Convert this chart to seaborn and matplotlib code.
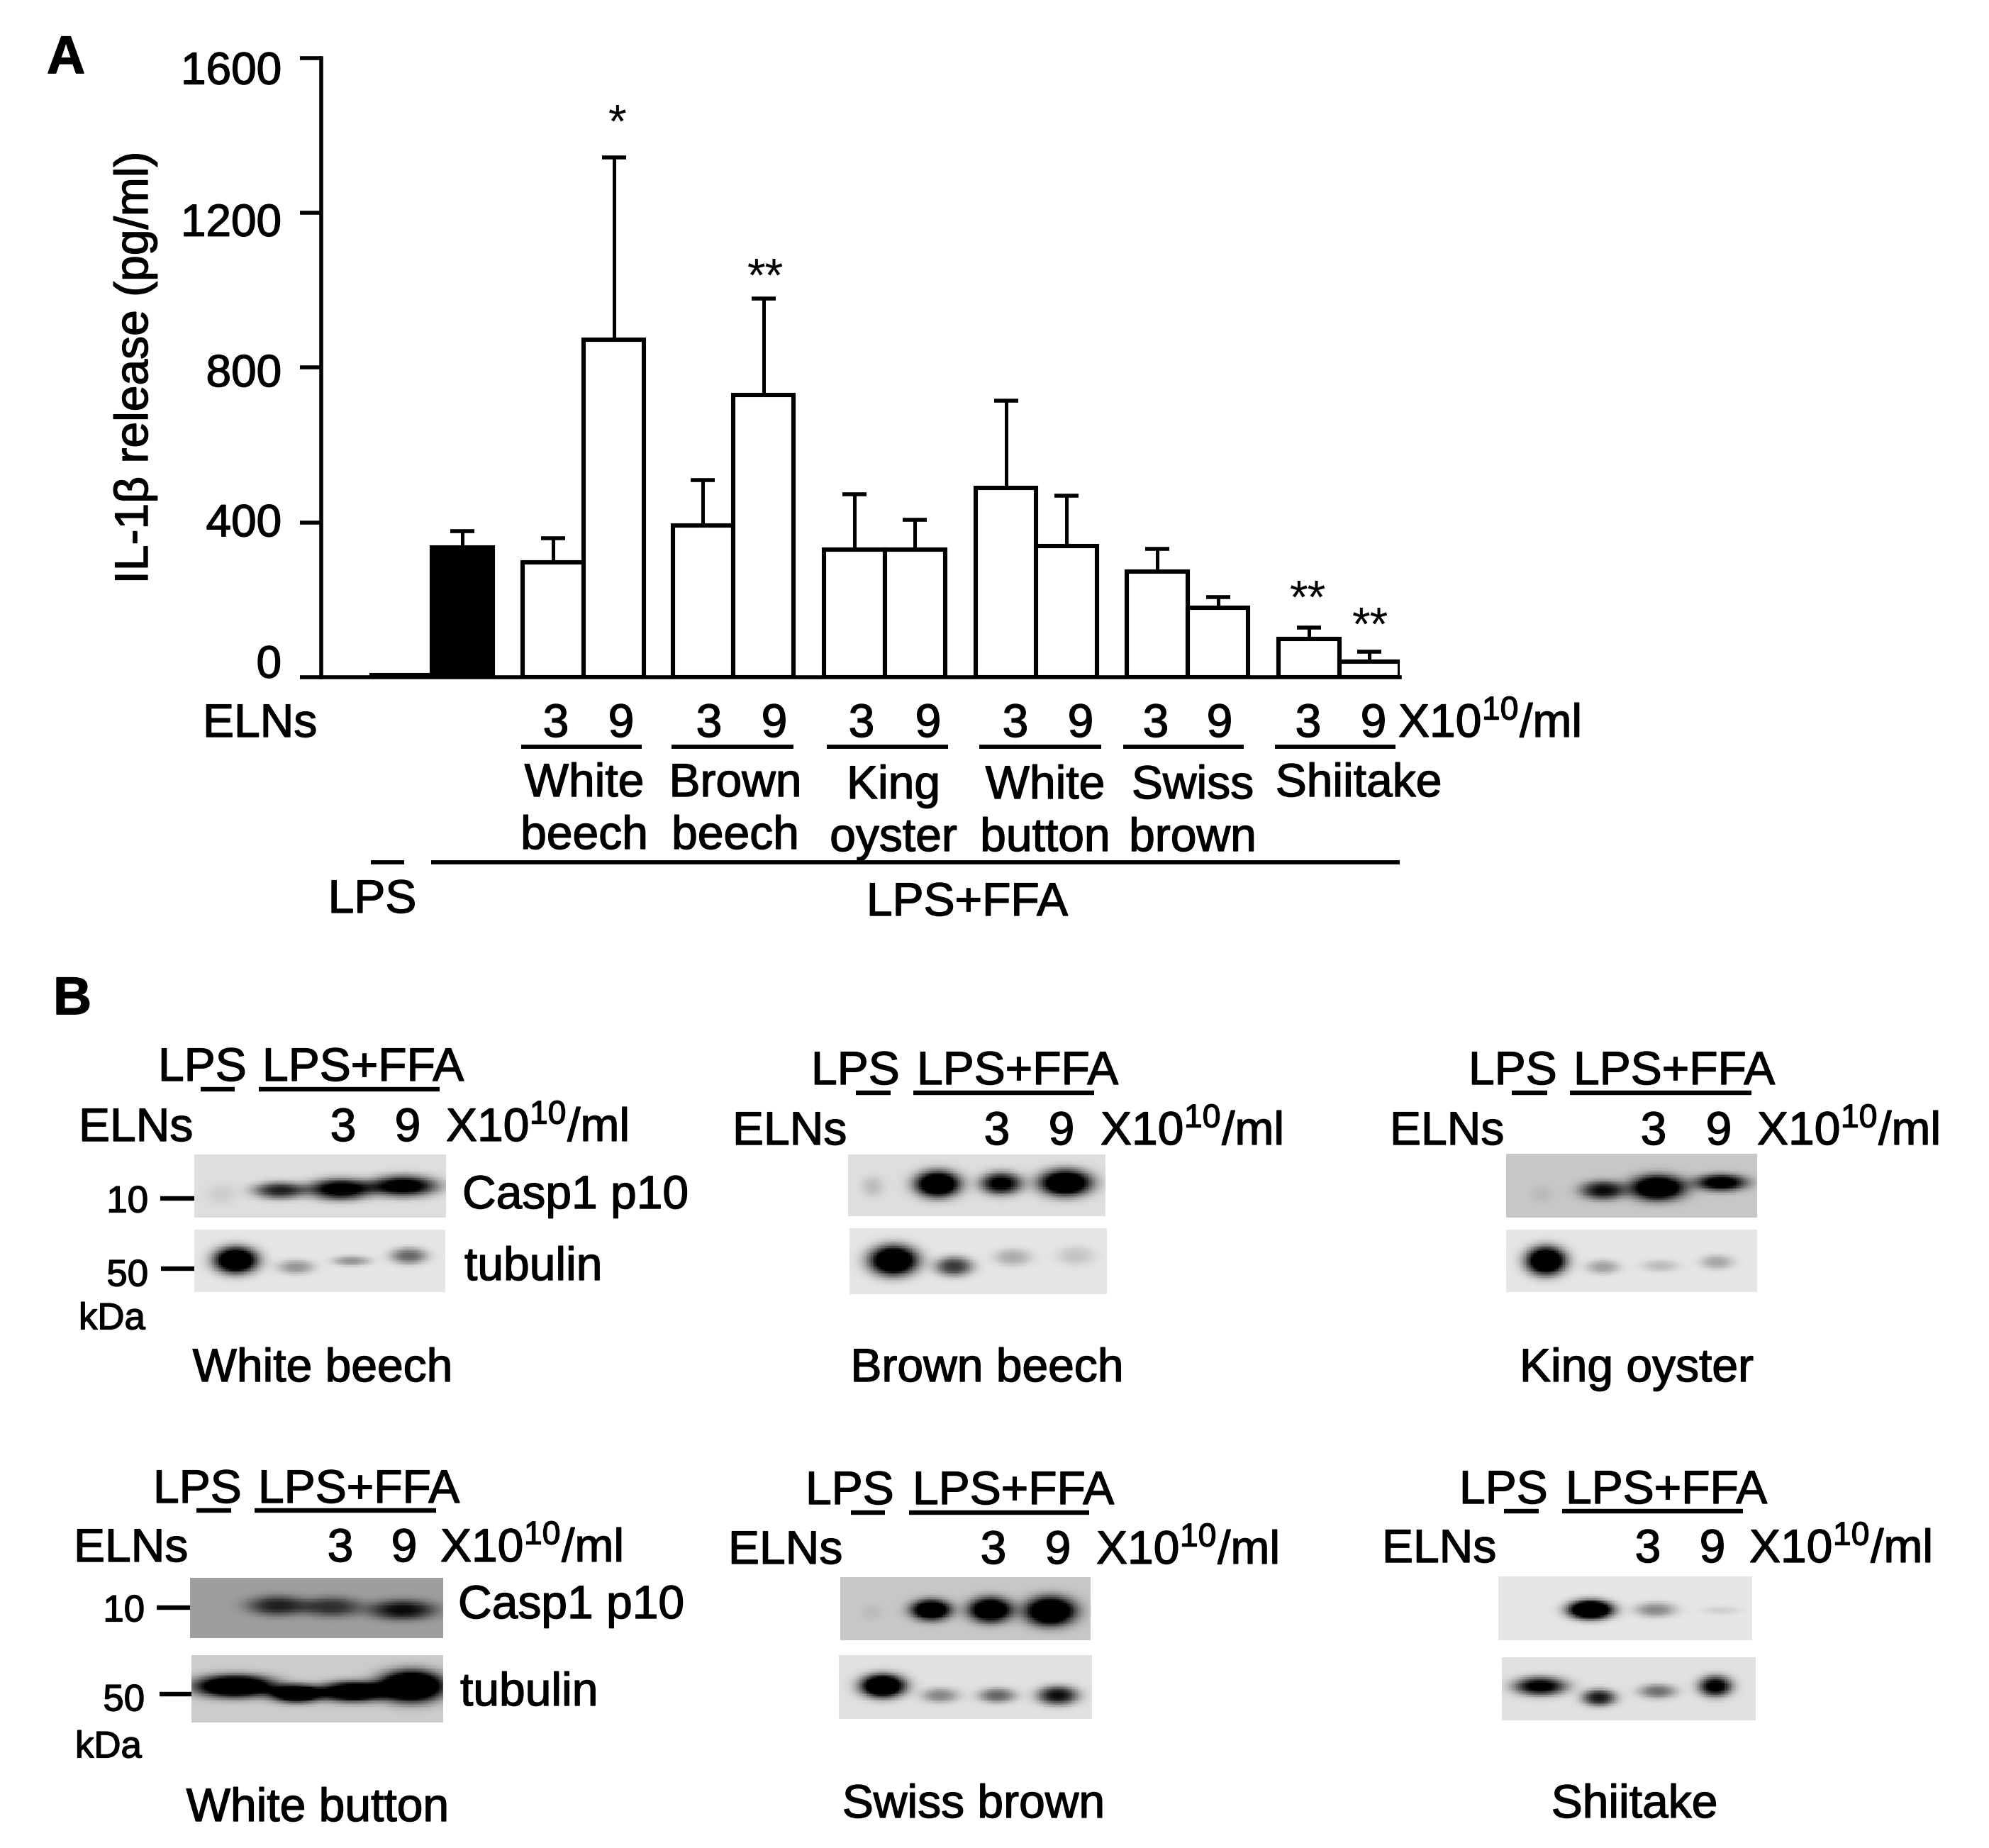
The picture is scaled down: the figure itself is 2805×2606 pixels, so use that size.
import numpy as np
import pandas as pd
import matplotlib
matplotlib.use("Agg")
import matplotlib.pyplot as plt
import matplotlib.patheffects as pe
from matplotlib.transforms import Affine2D
import seaborn as sns

# ---------- data: panel A ----------
control_labels = ["LPS", "LPS+FFA"]
control_means = [6, 336]
control_sems = [0, 42]
mushrooms = ["White\nbeech", "Brown\nbeech", "King\noyster", "White\nbutton", "Swiss\nbrown", "Shiitake"]
doses = ["3", "9"]
means_dose3 = [297, 393, 330, 489, 273, 99]
means_dose9 = [872, 729, 330, 339, 180, 40]
tops_dose3 = [359, 509, 472, 714, 331, 128]
tops_dose9 = [1343, 979, 407, 469, 208, 66]
y_ticks = [0, 400, 800, 1200, 1600]

# ---------- data: panel B blots (lane centre, row, width, height, strength) ----------
blot_names = ["White beech", "Brown beech", "King oyster", "White button", "Swiss brown", "Shiitake"]
casp_bg = [0.87, 0.87, 0.78, 0.62, 0.78, 0.90]
tub_bg = [0.90, 0.90, 0.90, 0.80, 0.88, 0.88]
casp_bands = [
    [(.106, .63, .04, .10, .08), (.34, .57, .07, .08, .85), (.58, .55, .085, .10, 1.2), (.83, .50, .09, .10, 1.2)],
    [(.095, .52, .03, .10, .15), (.348, .48, .06, .13, 1.5), (.595, .47, .055, .11, 1.1), (.845, .46, .07, .13, 1.5)],
    [(.143, .63, .03, .08, .07), (.386, .57, .06, .09, .95), (.604, .53, .075, .12, 1.5), (.857, .45, .07, .08, 1.2)],
    [(.346, .46, .08, .10, .8), (.56, .48, .08, .10, .7), (.84, .53, .09, .10, .95)],
    [(.127, .556, .03, .08, .06), (.363, .52, .055, .10, 1.5), (.60, .52, .06, .12, 1.5), (.84, .54, .07, .14, 1.6)],
    [(.363, .52, .06, .09, 1.7), (.62, .52, .055, .07, .4), (.878, .53, .05, .04, .1)],
]
tub_bands = [
    [(.166, .49, .06, .13, 1.5), (.405, .60, .05, .07, .35), (.626, .50, .05, .05, .35), (.855, .42, .05, .08, .55)],
    [(.171, .49, .065, .14, 1.5), (.406, .58, .05, .09, .75), (.635, .44, .05, .08, .25), (.879, .42, .05, .09, .15)],
    [(.159, .50, .055, .14, 1.5), (.386, .60, .045, .07, .3), (.614, .58, .05, .06, .18), (.84, .52, .045, .07, .28)],
    [(.172, .46, .11, .10, 1.6), (.417, .57, .07, .08, 1.5), (.64, .54, .09, .09, 1.5), (.873, .46, .09, .14, 1.8)],
    [(.174, .48, .06, .11, 1.6), (.40, .63, .05, .07, .4), (.626, .63, .05, .07, .55), (.865, .63, .055, .09, .95)],
    [(.151, .46, .07, .09, 1.1), (.383, .64, .045, .08, .9), (.614, .54, .05, .07, .5), (.842, .46, .045, .10, 1.1)],
]

# ---------- layout (pixels) ----------
W, H = 2805, 2606
DPI = 100
AX_L, AX_R, AX_T, AX_B = 453, 1974, 82, 955
BAR_PX = 85.5
FS = 47.5
BASE = 23
HEAVY = [pe.withStroke(linewidth=1.0, foreground="black")]

sns.set_theme(style="ticks")
plt.rcParams["font.family"] = ["Liberation Sans", "DejaVu Sans"]
plt.rcParams["mathtext.fontset"] = "custom"
plt.rcParams["mathtext.rm"] = "Liberation Sans"
plt.rcParams["mathtext.default"] = "rm"

fig = plt.figure(figsize=(W / DPI, H / DPI), dpi=DPI, facecolor="white")


def px_axes(l, t, r, b, **kw):
    return fig.add_axes([l / W, 1 - b / H, (r - l) / W, (b - t) / H], **kw)


# ---------- panel A ----------
ax = px_axes(AX_L, AX_T, AX_R, AX_B)
positions = [0.03, 1.03]
for start in [2.53, 5, 7.5, 10, 12.5, 15]:
    positions += [start, start + 1]
means, tops, fills = list(control_means), [m + s for m, s in zip(control_means, control_sems)], ["open", "solid"]
for a, b, c, d in zip(means_dose3, means_dose9, tops_dose3, tops_dose9):
    means += [a, b]
    tops += [c, d]
    fills += ["open", "open"]
df = pd.DataFrame({"pos": positions, "mean": means, "top": tops, "fill": fills})

ax.errorbar(df["pos"], df["mean"], yerr=[np.zeros(len(df)), df["top"] - df["mean"]],
            fmt="none", ecolor="black", elinewidth=3.6, capsize=12, capthick=4, zorder=1)
sns.barplot(data=df, x="pos", y="mean", hue="fill", palette={"open": "white", "solid": "black"},
            native_scale=True, dodge=False, width=1.0, edgecolor="black", linewidth=4.4,
            errorbar=None, legend=False, ax=ax, zorder=2)
ax.set_xlim((AX_L - 564) / BAR_PX, 16.5)
ax.set_ylim(0, 1600)
ax.set_yticks(y_ticks)
ax.set_xticks([])
ax.set_xlabel("")
ax.set_ylabel("IL-1β release (pg/ml)", fontsize=FS, color="black", path_effects=HEAVY)
ax.yaxis.set_label_coords((222 - AX_L) / (AX_R - AX_L), 0.5)
sns.despine(ax=ax)
for s in ("left", "bottom"):
    ax.spines[s].set_linewidth(4)
    ax.spines[s].set_color("black")
ax.tick_params(axis="y", length=21.6, width=4, pad=18.7, labelsize=46, colors="black")
ax.patch.set_alpha(0)
for tick, dy in zip(ax.yaxis.get_major_ticks(), [-23, -4, 3, 9, 13]):
    tick.label1.set_transform(tick.label1.get_transform() + Affine2D().translate(0, -dy))
    tick.label1.set_path_effects(HEAVY)

# ---------- overlay in pixel coordinates ----------
ov = fig.add_axes([0, 0, 1, 1], zorder=5)
ov.set_xlim(0, W)
ov.set_ylim(H, 0)
ov.axis("off")


def T(x, y, s, ha="left", fs=FS, **kw):
    ov.text(x, y + BASE * fs / FS, s, ha=ha, va="baseline", fontsize=fs, color="black",
            path_effects=HEAVY, **kw)


def L(x0, x1, y, lw=4.2):
    ov.plot([x0, x1], [y, y], color="black", lw=lw, solid_capstyle="butt")


UNIT = "X10$^{10}$/ml"
T(66, 77, "A", fs=54, fontweight="bold")
T(75, 1404, "B", fs=54, fontweight="bold")

T(286, 1016, "ELNs")
pair_x = [(784, 876), (1000, 1092), (1215, 1309), (1432, 1524), (1630, 1720), (1845, 1937)]
for (a, b) in pair_x:
    T(a, 1016, doses[0], ha="center")
    T(b, 1016, doses[1], ha="center")
T(1972, 1016, UNIT)
under = [(735, 905), (947, 1119), (1166, 1337), (1381, 1553), (1584, 1754), (1798, 1968)]
for (a, b) in under:
    L(a, b, 1053)
name_x = [824, 1037, 1260, 1474, 1682, 1916]
name_y = [(1100, 1174), (1100, 1174), (1103, 1177), (1103, 1177), (1103, 1177), (1100, 1174)]
for m, x, ys in zip(mushrooms, name_x, name_y):
    for part, y in zip(m.split("\n"), ys):
        T(x, y, part, ha="center")
L(523, 570, 1216)
L(608, 1974, 1216)
T(525, 1264, control_labels[0], ha="center")
T(1364, 1268, control_labels[1], ha="center")
for x, y, s in [(871, 156, "*"), (1080, 373, "**"), (1845, 827, "**"), (1933, 865, "**")]:
    ov.text(x, y + 38, s, ha="center", va="baseline", fontsize=FS, color="black")

# ---------- panel B ----------
panels = [
    dict(top=(274, 1628, 629, 1717), bot=(274, 1734, 628, 1822), lps=223, lps_u=(283, 331), ffa=370, ffa_u=(365, 620),
         y1=1501, yu=1536, y2=1586, eln=111, d3=484, d9=575, unit=629, name=455, name_y=1925,
         m10=(209, 1691, 226, 1690), m50=(209, 1795, 227, 1789), kda=(111, 1856), casp=(652, 1681), tub=(655, 1782)),
    dict(top=(1196, 1628, 1559, 1715), bot=(1198, 1732, 1561, 1825), lps=1144, lps_u=(1207, 1256), ffa=1293, ffa_u=(1288, 1543),
         y1=1506, yu=1541, y2=1591, eln=1033, d3=1406, d9=1497, unit=1552, name=1392, name_y=1925),
    dict(top=(2124, 1627, 2478, 1717), bot=(2124, 1734, 2478, 1822), lps=2071, lps_u=(2132, 2182), ffa=2219, ffa_u=(2214, 2470),
         y1=1506, yu=1541, y2=1591, eln=1960, d3=2332, d9=2424, unit=2478, name=2308, name_y=1925),
    dict(top=(268, 2225, 625, 2310), bot=(270, 2334, 625, 2429), lps=216, lps_u=(277, 326), ffa=364, ffa_u=(359, 615),
         y1=2096, yu=2130, y2=2179, eln=104, d3=480, d9=570, unit=621, name=448, name_y=2545,
         m10=(204, 2268, 221, 2267), m50=(204, 2394, 225, 2389), kda=(106, 2460), casp=(646, 2259), tub=(649, 2382)),
    dict(top=(1185, 2224, 1538, 2313), bot=(1183, 2334, 1540, 2424), lps=1136, lps_u=(1200, 1248), ffa=1287, ffa_u=(1282, 1536),
         y1=2098, yu=2133, y2=2182, eln=1027, d3=1401, d9=1492, unit=1546, name=1373, name_y=2540),
    dict(top=(2113, 2223, 2471, 2313), bot=(2118, 2337, 2476, 2426), lps=2058, lps_u=(2121, 2170), ffa=2208, ffa_u=(2203, 2458),
         y1=2097, yu=2131, y2=2180, eln=1949, d3=2324, d9=2415, unit=2467, name=2305, name_y=2540),
]


def blot(box, bg, bands):
    l, t, r, b = box
    nx, ny = int((r - l) / 2.5), int((b - t) / 2.5)
    u, v = np.meshgrid((np.arange(nx) + .5) / nx, (np.arange(ny) + .5) / ny)
    dark = np.zeros_like(u)
    for cu, cv, su, sv, amp in bands:
        r2 = ((u - cu) / (su * 1.1)) ** 2 + ((v - cv) / (sv * 1.25)) ** 2
        dark += amp * np.exp(-0.5 * r2 ** 1.3)
    img = bg * (1 - np.clip(dark, 0, 1))
    a = px_axes(l, t, r, b)
    sns.heatmap(img, ax=a, cmap="gray", vmin=0, vmax=1, cbar=False, xticklabels=False, yticklabels=False)


for i, p in enumerate(panels):
    blot(p["top"], casp_bg[i], casp_bands[i])
    blot(p["bot"], tub_bg[i], tub_bands[i])
    T(p["lps"], p["y1"], control_labels[0])
    T(p["ffa"], p["y1"], control_labels[1])
    L(*p["lps_u"], p["yu"], lw=4.6)
    L(*p["ffa_u"], p["yu"], lw=4.6)
    T(p["eln"], p["y2"], "ELNs")
    T(p["d3"], p["y2"], doses[0], ha="center")
    T(p["d9"], p["y2"], doses[1], ha="center")
    T(p["unit"], p["y2"], UNIT)
    T(p["name"], p["name_y"], blot_names[i], ha="center")
    if "m10" in p:
        lx, ly, tx, ty = p["m10"]
        T(lx, ly, "10", ha="right", fs=38)
        L(tx, p["top"][0], ty, lw=4.6)
        lx, ly, tx, ty = p["m50"]
        T(lx, ly, "50", ha="right", fs=38)
        L(tx, p["bot"][0], ty, lw=4.6)
        T(p["kda"][0], p["kda"][1], "kDa", fs=38)
        T(*p["casp"], "Casp1 p10")
        T(*p["tub"], "tubulin")

fig.savefig("out.png", dpi=DPI, facecolor="white")
